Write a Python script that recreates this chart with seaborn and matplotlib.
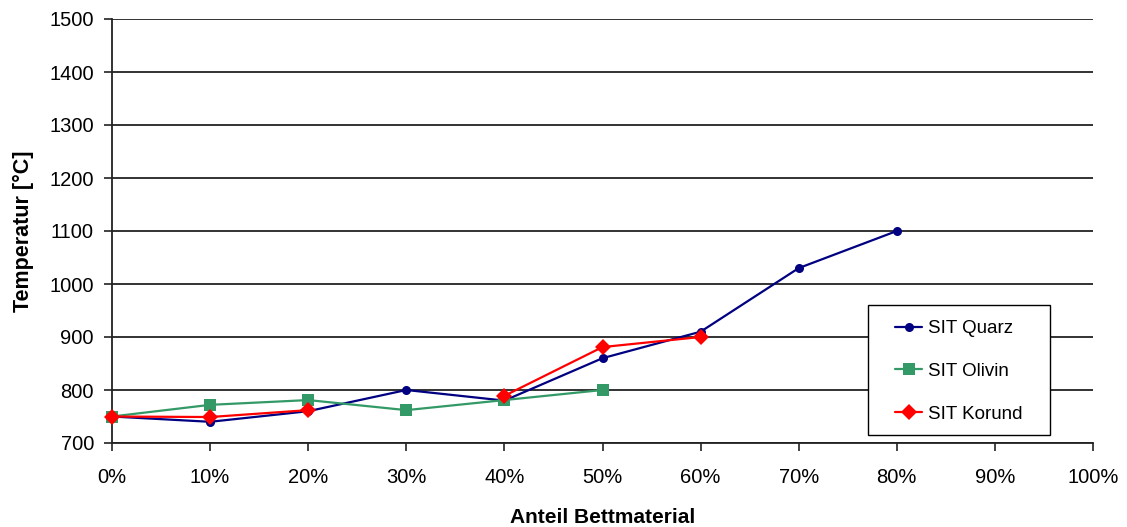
import matplotlib
matplotlib.use("Agg")
import matplotlib.pyplot as plt
from matplotlib.patches import Rectangle
import seaborn as sns
import pandas as pd
import numpy as np

# Bed material fraction (%) and sintering temperatures (°C)
anteil = [0, 10, 20, 30, 40, 50, 60, 70, 80]
quarz = [750, 740, 760, 800, 780, 860, 910, 1030, 1100]
olivin_anteil = [0, 10, 20, 30, 40, 50]
olivin = [750, 772, 781, 762, 781, 800]
# no Korund measurement at 30 %, so the line is broken there
korund_anteil = [0, 10, 20, 40, 50, 60]
korund = [750, 749, 762, 789, 881, 900]
korund_segment = [0, 0, 0, 1, 1, 1]

series = ["SIT Quarz", "SIT Olivin", "SIT Korund"]
colors = ["#000080", "#339966", "#FF0000"]
markers = ["o", "s", "D"]
msizes = [6.5, 8, 8.5]

df = pd.concat([
    pd.DataFrame({"Anteil": anteil, "T": quarz, "Serie": series[0], "seg": 0}),
    pd.DataFrame({"Anteil": olivin_anteil, "T": olivin, "Serie": series[1], "seg": 0}),
    pd.DataFrame({"Anteil": korund_anteil, "T": korund, "Serie": series[2],
                  "seg": korund_segment}),
])

sns.set_theme(style="white")
plt.rcParams["font.family"] = ["Liberation Sans", "DejaVu Sans"]
plt.rcParams["text.color"] = "black"
plt.rcParams["axes.labelcolor"] = "black"

W, H = 1127, 527
fig = plt.figure(figsize=(W / 100, H / 100), dpi=100)
ax = fig.add_axes([112 / W, 1 - 443 / H, (1093 - 112) / W, (443 - 19) / H])

for name, col, mk, ms in zip(series, colors, markers, msizes):
    sub = df[df["Serie"] == name]
    sns.lineplot(data=sub, x="Anteil", y="T", units="seg", estimator=None, ax=ax,
                 color=col, marker=mk, markersize=ms, markeredgewidth=0,
                 linewidth=1.6, zorder=3, clip_on=False, legend=False)

ax.set_xlim(0, 100)
ax.set_ylim(700, 1500)
ax.set_xticks(np.arange(0, 101, 10))
ax.set_xticklabels([f"{v}%" for v in range(0, 101, 10)])
ax.set_yticks(np.arange(700, 1501, 100))
ax.yaxis.grid(True, color="#222222", linewidth=1.3)
ax.xaxis.grid(False)
ax.set_axisbelow(True)

for s in ["top", "right"]:
    ax.spines[s].set_visible(False)
for s in ["left", "bottom"]:
    ax.spines[s].set_color("#222222")
    ax.spines[s].set_linewidth(1.3)

ax.tick_params(axis="both", which="both", direction="out", length=6, width=1.2,
               color="#222222", labelsize=14.5, labelcolor="black",
               left=True, bottom=True)
ax.tick_params(axis="x", pad=12)
ax.tick_params(axis="y", pad=7)

ax.set_xlabel("Anteil Bettmaterial", fontsize=15, fontweight="bold", labelpad=15)
ax.set_ylabel("Temperatur [°C]", fontsize=15.5, fontweight="bold", labelpad=11)

# legend box with the entries inset from its left edge
frame = Rectangle((868 / W, 1 - 435 / H), (1050 - 868) / W, (435 - 305) / H,
                  transform=fig.transFigure, facecolor="white", edgecolor="black",
                  linewidth=1.0, zorder=4, clip_on=False)
ax.add_patch(frame)

handles = [plt.Line2D([], [], color=c, marker=m, markersize=s, markeredgewidth=0,
                      linewidth=1.6) for c, m, s in zip(colors, markers, msizes)]
leg = ax.legend(handles, series, loc="upper left",
                bbox_to_anchor=(895 / W, 1 - 320 / H), bbox_transform=fig.transFigure,
                frameon=False, fontsize=13.5, handlelength=1.45, labelspacing=1.37,
                borderpad=0, handletextpad=0.3, borderaxespad=0)
leg.set_zorder(5)

fig.savefig("out.png", dpi=100, facecolor="white")
